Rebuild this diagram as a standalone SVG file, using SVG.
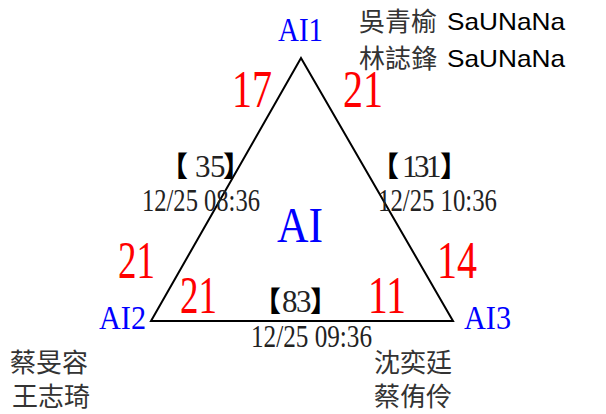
<svg xmlns="http://www.w3.org/2000/svg" width="606" height="414" viewBox="0 0 606 414">
<style>
.num{font-family:"Liberation Serif",serif;fill:#ff0000;font-size:52px}
.ai{font-family:"Liberation Serif",serif;fill:#0000ff;font-size:33px}
.lbl{font-family:"Liberation Serif",serif;fill:#222;font-size:31px}
.br{font-family:"Noto Sans CJK TC",sans-serif;fill:#000;font-size:28px;font-weight:900}
.dg{font-family:"Liberation Serif",serif;fill:#222;font-size:31px;font-weight:normal}
.name{font-family:"Noto Sans CJK TC",sans-serif;fill:#333;font-size:26px}
.lat{font-family:"Liberation Sans",sans-serif;fill:#000;font-size:24px}
</style>
<rect width="606" height="414" fill="#fff"/>
<g id="connectors">
<polygon points="301,58 151,321 453,321" fill="none" stroke="#000" stroke-width="2" stroke-linejoin="miter"/>
</g>
<g id="AI1"><text class="ai" x="278" y="41" textLength="45" lengthAdjust="spacingAndGlyphs">AI1</text></g>
<g id="AI2"><text class="ai" x="99" y="329" textLength="47" lengthAdjust="spacingAndGlyphs">AI2</text></g>
<g id="AI3"><text class="ai" x="464" y="329" textLength="47" lengthAdjust="spacingAndGlyphs">AI3</text></g>
<g id="AI"><text class="ai" x="277" y="242" style="font-size:51px" textLength="46" lengthAdjust="spacingAndGlyphs">AI</text></g>
<g id="scores">
<text class="num" x="232" y="107" textLength="40" lengthAdjust="spacingAndGlyphs">17</text>
<text class="num" x="343" y="107" textLength="40" lengthAdjust="spacingAndGlyphs">21</text>
<text class="num" x="118" y="278" textLength="37" lengthAdjust="spacingAndGlyphs">21</text>
<text class="num" x="180" y="313" textLength="37" lengthAdjust="spacingAndGlyphs">21</text>
<text class="num" x="437" y="278" textLength="40" lengthAdjust="spacingAndGlyphs">14</text>
<text class="num" x="368" y="313" textLength="38" lengthAdjust="spacingAndGlyphs">11</text>
</g>
<g id="edge-left-label">
<text y="177"><tspan class="br" x="160">【</tspan><tspan class="dg" x="195 210">35</tspan><tspan class="br" x="223">】</tspan></text>
<text class="lbl" x="142" y="211" textLength="118" lengthAdjust="spacingAndGlyphs">12/25 08:36</text>
</g>
<g id="edge-right-label">
<text y="177"><tspan class="br" x="371">【</tspan><tspan class="dg" x="402 414 426">131</tspan><tspan class="br" x="440">】</tspan></text>
<text class="lbl" x="378" y="211" textLength="119" lengthAdjust="spacingAndGlyphs">12/25 10:36</text>
</g>
<g id="edge-bottom-label">
<text y="312"><tspan class="br" x="253">【</tspan><tspan class="dg" x="282 296">83</tspan><tspan class="br" x="310">】</tspan></text>
<text class="lbl" x="251" y="347" textLength="121" lengthAdjust="spacingAndGlyphs">12/25 09:36</text>
</g>
<g id="team1">
<text class="name" x="359" y="31">吳青榆</text><text class="lat" x="447" y="30" textLength="118" lengthAdjust="spacingAndGlyphs">SaUNaNa</text>
<text class="name" x="359" y="68">林誌鋒</text><text class="lat" x="447" y="67" textLength="118" lengthAdjust="spacingAndGlyphs">SaUNaNa</text>
</g>
<g id="team2">
<text class="name" x="10" y="372">蔡旻容</text>
<text class="name" x="12" y="406">王志琦</text>
</g>
<g id="team3">
<text class="name" x="374" y="372">沈奕廷</text>
<text class="name" x="374" y="406">蔡侑伶</text>
</g>
</svg>
